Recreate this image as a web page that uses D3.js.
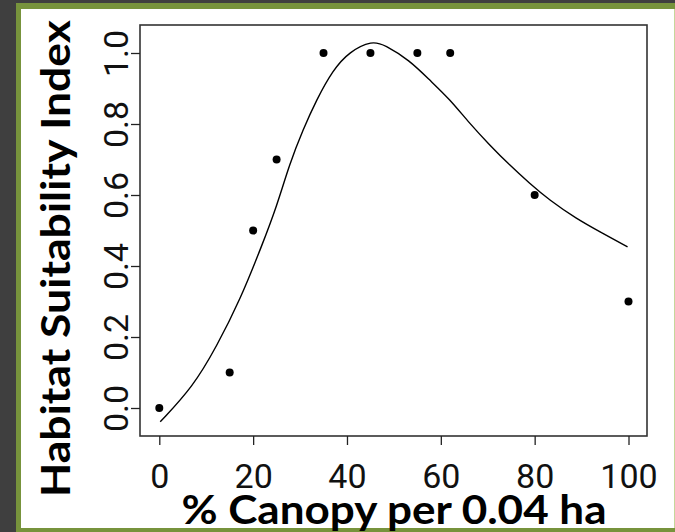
<!DOCTYPE html>
<html>
<head>
<meta charset="utf-8">
<script src="https://cdn.jsdelivr.net/npm/d3@7"></script>
<style>
  body { margin: 0; background: #3f3f3f; }
  svg { display: block; }
  .tick text { font-family: Roboto, "Liberation Sans", sans-serif !important; font-size: 34px; fill: #111; }
  .title { font-family: Lato, "Open Sans", sans-serif; font-weight: bold; font-size: 40px; fill: #000; }
</style>
</head>
<body>
<div id="chart"></div>
<script>
// observed points
const canopy = [0, 15, 20, 25, 35, 45, 55, 62, 80, 100];
const hsi = [0.0, 0.1, 0.5, 0.7, 1.0, 1.0, 1.0, 1.0, 0.6, 0.3];

// fitted curve
const curveX = [0.2, 7.2, 12.2, 17.2, 22.0, 25.0, 27.8, 30.6, 33.5, 37.0, 40.5, 45.4, 48.0,
                53.3, 57.6, 61.9, 66.1, 70.4, 74.6, 78.9, 83.1, 88.8, 94.5, 99.8];
const curveY = [-0.039, 0.060, 0.173, 0.304, 0.462, 0.567, 0.689, 0.783, 0.868, 0.952, 1.004, 1.035, 1.023,
                0.980, 0.924, 0.870, 0.802, 0.741, 0.685, 0.633, 0.586, 0.534, 0.492, 0.454];

const xTicks = [0, 20, 40, 60, 80, 100];
const yTicks = [0.0, 0.2, 0.4, 0.6, 0.8, 1.0];

const W = 675, H = 532;
const box = { left: 140, top: 25, right: 647, bottom: 436 };

const svg = d3.select("#chart").append("svg")
    .attr("width", W)
    .attr("height", H);

// slide frame
svg.append("rect").attr("width", W).attr("height", H).attr("fill", "#3f3f3f");
svg.append("rect")
    .attr("x", 16).attr("y", 3)
    .attr("width", W - 16).attr("height", H - 3)
    .attr("fill", "#77933c");
svg.append("rect")
    .attr("x", 21).attr("y", 9)
    .attr("width", 674 - 21).attr("height", 528 - 9)
    .attr("fill", "#fff");
svg.append("rect")
    .attr("x", 674).attr("y", 9)
    .attr("width", 1).attr("height", 519)
    .attr("fill", "#c4d79b");

const x = d3.scaleLinear().domain([0, 100]).range([159.3, 628.5]);
const y = d3.scaleLinear().domain([0, 1]).range([408, 53]);

// plot box
svg.append("rect")
    .attr("x", box.left).attr("y", box.top)
    .attr("width", box.right - box.left).attr("height", box.bottom - box.top)
    .attr("fill", "none")
    .attr("stroke", "#333")
    .attr("stroke-width", 1.6);

// x axis
const xAxis = svg.append("g")
    .attr("transform", `translate(0,${box.bottom})`)
    .call(d3.axisBottom(x).tickValues(xTicks).tickSize(9).tickFormat(d3.format("d")));
xAxis.select(".domain").remove();
xAxis.selectAll(".tick line").attr("stroke", "#222").attr("stroke-width", 1.3);
xAxis.selectAll(".tick text")
    .attr("y", 52)
    .attr("dy", null);

// y axis
const yAxis = svg.append("g")
    .attr("transform", `translate(${box.left},0)`)
    .call(d3.axisLeft(y).tickValues(yTicks).tickSize(9).tickFormat(d3.format(".1f")));
yAxis.select(".domain").remove();
yAxis.selectAll(".tick line").attr("stroke", "#222").attr("stroke-width", 1.3);
yAxis.selectAll(".tick text")
    .attr("x", null).attr("dy", null)
    .attr("transform", "translate(-12,0) rotate(-90)")
    .attr("text-anchor", "middle");

// fitted curve
const line = d3.line()
    .x((d, i) => x(curveX[i]))
    .y(d => y(d))
    .curve(d3.curveBasis);
svg.append("path")
    .datum(curveY)
    .attr("d", line)
    .attr("fill", "none")
    .attr("stroke", "#000")
    .attr("stroke-width", 1.4);

// points
svg.append("g").selectAll("circle")
    .data(canopy)
    .join("circle")
    .attr("cx", d => x(d))
    .attr("cy", (d, i) => y(hsi[i]))
    .attr("r", 4)
    .attr("fill", "#000");

// axis titles
svg.append("text")
    .attr("class", "title")
    .attr("x", 394).attr("y", 524)
    .attr("text-anchor", "middle")
    .attr("textLength", 425)
    .attr("lengthAdjust", "spacingAndGlyphs")
    .text("% Canopy per 0.04 ha");

svg.append("text")
    .attr("class", "title")
    .attr("transform", "translate(70,258.5) rotate(-90)")
    .attr("text-anchor", "middle")
    .attr("textLength", 477)
    .attr("lengthAdjust", "spacingAndGlyphs")
    .text("Habitat Suitability Index");
</script>
</body>
</html>
